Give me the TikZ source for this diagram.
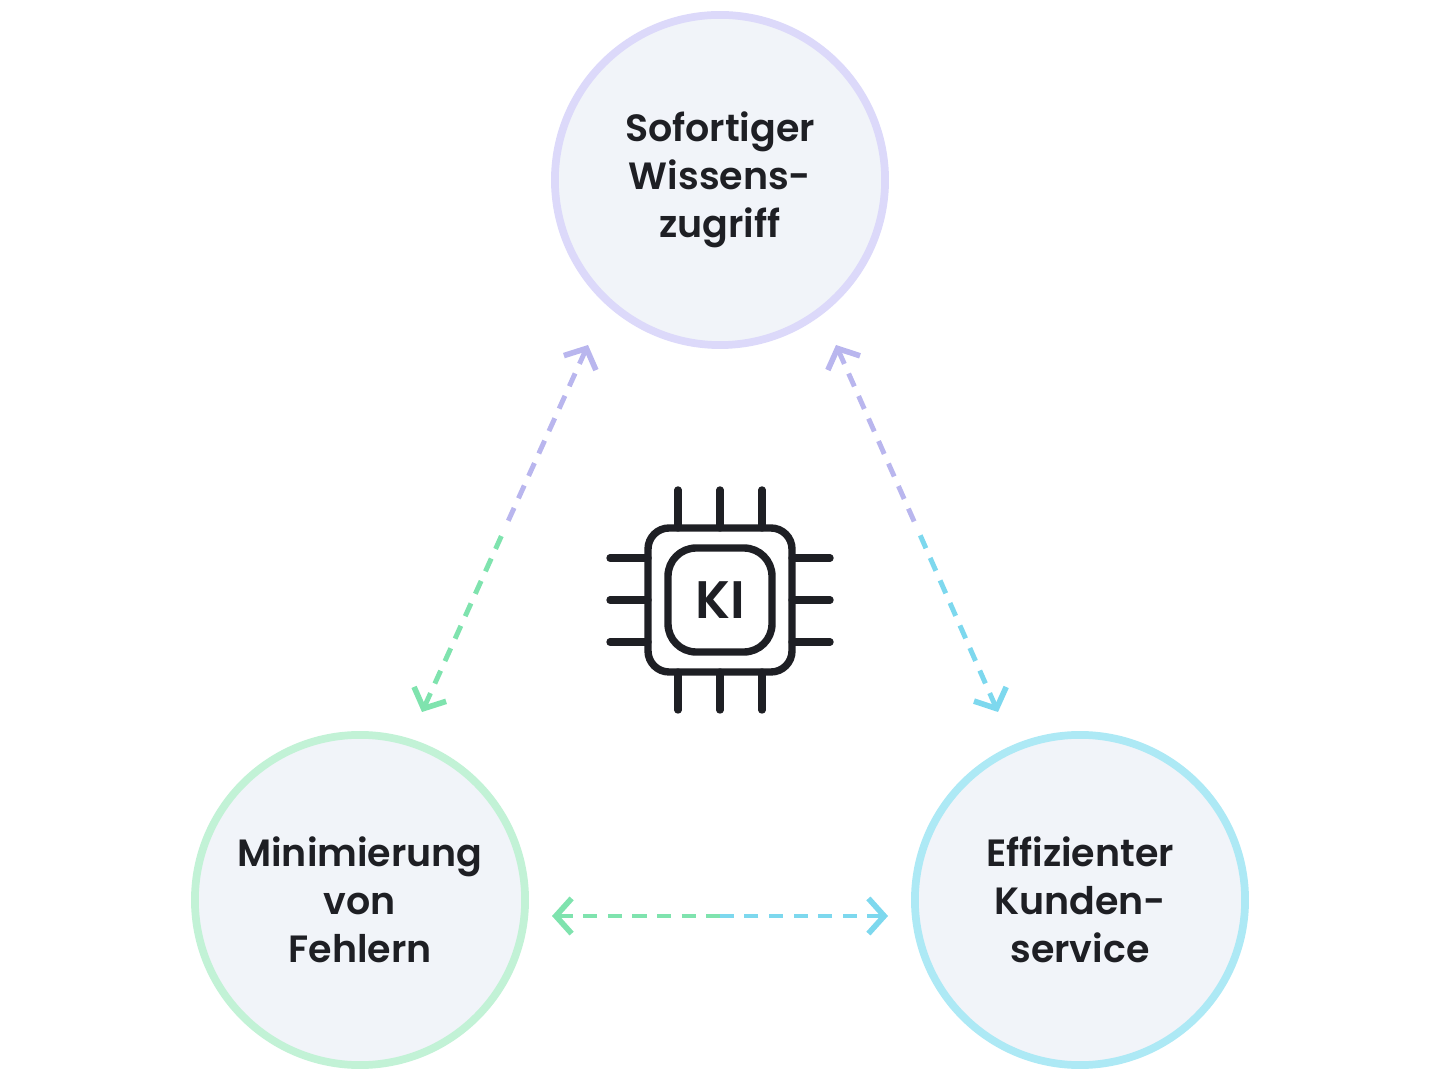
\documentclass[tikz,border=0pt]{standalone}
\usepackage{fontspec}
\setmainfont{Poppins}[BoldFont={* SemiBold}]
\usetikzlibrary{arrows.meta}
\definecolor{bubble}{HTML}{F1F4F9}
\definecolor{lav}{HTML}{DCD9FA}
\definecolor{mint}{HTML}{C2F2D6}
\definecolor{sky}{HTML}{ADE9F5}
\definecolor{lavdark}{HTML}{B9B6EE}
\definecolor{mintdark}{HTML}{7FE3AE}
\definecolor{skydark}{HTML}{7DD8EE}
\definecolor{ink}{HTML}{1E1F24}
\begin{document}
\begin{tikzpicture}[x=0.01cm,y=-0.01cm]
	\tikzstyle{topic}=[circle, minimum size=3.3cm, fill=bubble, line width=2.2pt, align=center, font=\bfseries\fontsize{10.8}{13.6}\selectfont, text=ink]
	\tikzstyle{link}=[dashed, dash pattern=on 4pt off 3pt, line width=1.4pt]
	\tikzstyle{tip}=[{Straight Barb[length=4.5pt,width=10pt,line width=1.6pt]}-]
	\tikzstyle{pin}=[line width=2.1pt, line cap=round, ink]
	\useasboundingbox (0,0) rectangle (1440,1080);

	\node[topic, draw=lav] (wissen) at (720,180) {Sofortiger\\Wissens-\\zugriff};
	\node[topic, draw=mint] (fehler) at (360,900) {Minimierung\\von\\Fehlern};
	\node[topic, draw=sky] (kunde) at (1080,900) {Effizienter\\Kunden-\\service};

	% connectors, split halves for the colour change
	\coordinate (a1) at (588,345); \coordinate (a2) at (422,712); \coordinate (am) at (505,528);
	\draw[link, tip, lavdark] (a1) -- (am);
	\draw[link, tip, mintdark] (a2) -- (am);
	\coordinate (b1) at (836,345); \coordinate (b2) at (998,712); \coordinate (bm) at (917,528);
	\draw[link, tip, lavdark] (b1) -- (bm);
	\draw[link, tip, skydark] (b2) -- (bm);
	\coordinate (c1) at (552,916); \coordinate (c2) at (888,916); \coordinate (cm) at (720,916);
	\draw[link, tip, mintdark] (c1) -- (cm);
	\draw[link, tip, skydark] (c2) -- (cm);

	% chip
	\draw[pin, rounded corners=6pt] (648,528) rectangle (792,672);
	\draw[pin, rounded corners=8pt] (668,548) rectangle (772,652);
	\foreach \p in {678,720,762} {
		\draw[pin] (\p,490) -- (\p,528);
		\draw[pin] (\p,672) -- (\p,710);
	}
	\foreach \p in {558,600,642} {
		\draw[pin] (610,\p) -- (648,\p);
		\draw[pin] (792,\p) -- (830,\p);
	}
	\node[font=\bfseries\fontsize{15}{18}\selectfont, text=ink] (ki) at (720,600) {KI};
\end{tikzpicture}
\end{document}
